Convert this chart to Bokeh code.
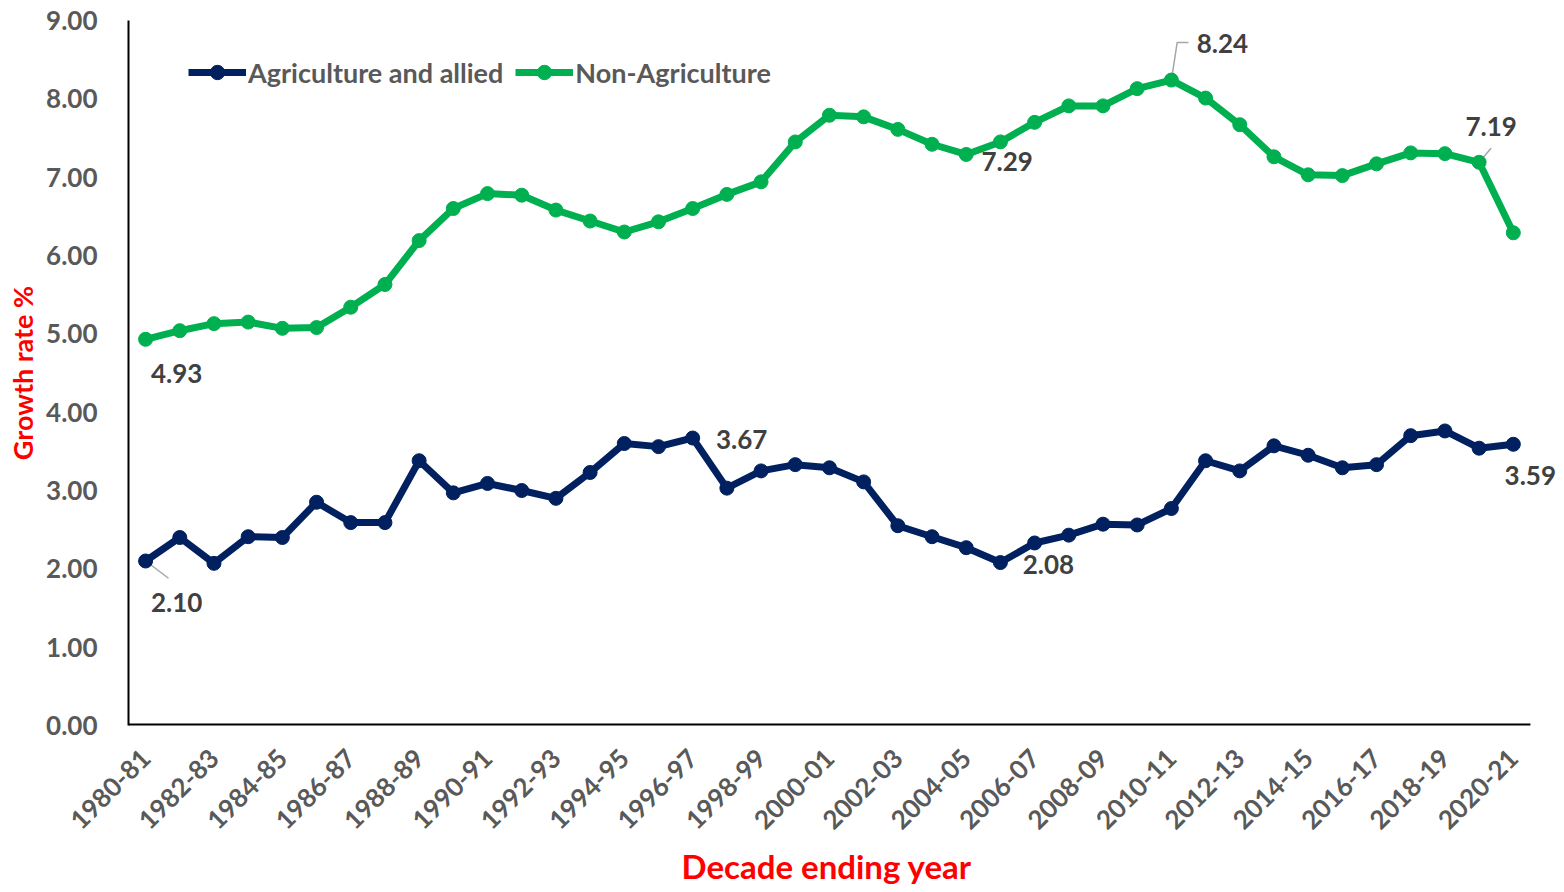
from bokeh.plotting import figure
from bokeh.models import (ColumnDataSource, Range1d, FixedTicker, PrintfTickFormatter,
                          Legend, LegendItem, LabelSet, Title)
from bokeh.core.properties import value
from bokeh.embed import file_html
from bokeh.resources import INLINE

years = ["1980-81", "1981-82", "1982-83", "1983-84", "1984-85", "1985-86", "1986-87",
         "1987-88", "1988-89", "1989-90", "1990-91", "1991-92", "1992-93", "1993-94",
         "1994-95", "1995-96", "1996-97", "1997-98", "1998-99", "1999-00", "2000-01",
         "2001-02", "2002-03", "2003-04", "2004-05", "2005-06", "2006-07", "2007-08",
         "2008-09", "2009-10", "2010-11", "2011-12", "2012-13", "2013-14", "2014-15",
         "2015-16", "2016-17", "2017-18", "2018-19", "2019-20", "2020-21"]

agri = [2.10, 2.40, 2.07, 2.41, 2.40, 2.85, 2.59, 2.59, 3.38, 2.97, 3.09, 3.00, 2.90,
        3.23, 3.60, 3.56, 3.67, 3.03, 3.25, 3.33, 3.29, 3.11, 2.55, 2.41, 2.27, 2.08,
        2.33, 2.43, 2.57, 2.56, 2.77, 3.38, 3.25, 3.57, 3.45, 3.29, 3.33, 3.70, 3.76,
        3.54, 3.59]

nonagri = [4.93, 5.04, 5.13, 5.15, 5.07, 5.08, 5.34, 5.63, 6.19, 6.60, 6.79, 6.77, 6.58,
           6.44, 6.30, 6.43, 6.60, 6.78, 6.94, 7.45, 7.79, 7.77, 7.61, 7.42, 7.29, 7.45,
           7.70, 7.91, 7.91, 8.13, 8.24, 8.01, 7.67, 7.26, 7.03, 7.02, 7.17, 7.31, 7.30,
           7.19, 6.29]

series_names = ["Agriculture and allied", "Non-Agriculture"]
y_ticks = [0, 1, 2, 3, 4, 5, 6, 7, 8, 9]
x_title = "Decade ending year"
y_title = "Growth rate %"

# data-labelled points
agri_label_idx = [0, 16, 25, 40]
nonagri_label_idx = [0, 24, 30, 39]

# styles
AGRI_COLOR = "#002060"
NON_COLOR = "#00B050"
FONT = "Lato"
# screen offsets (px, right / up) of each data label from its point
agri_label_offsets = [(31, -41), (49, -1), (48, -2), (17, -31)]
nonagri_label_offsets = [(31, -34), (41, -7), (51, 37), (12, 36)]
X_PAD = 0.5          # half-category padding on both sides of the axis
X_EXTRA = 0.88       # extra room right of the axis so outside labels are not clipped

xs = list(range(len(years)))
x_lo = -X_PAD
x_hi = len(years) - 1 + X_PAD

p = figure(width=1564, height=892, output_backend="svg", toolbar_location=None,
           x_range=Range1d(x_lo, x_hi + X_EXTRA), y_range=Range1d(0, 9),
           min_border_left=128, min_border_right=4, min_border_top=20,
           min_border_bottom=167)
p.outline_line_color = None
p.xgrid.grid_line_color = None
p.ygrid.grid_line_color = None
p.background_fill_color = "white"

# x axis base line (only across the category span)
p.segment(x0=[x_lo], y0=[0], x1=[x_hi], y1=[0], line_color="black", line_width=4)

src_a = ColumnDataSource(dict(x=xs, y=agri))
src_n = ColumnDataSource(dict(x=xs, y=nonagri))

# leader lines (data-relative)
lead_xs = [
    [0, 0 + 0.67],
    [30, 30 + 0.17, 30 + 0.50],
    [39, 39 + 0.35],
]
lead_ys = [
    [agri[0], agri[0] - 0.22],
    [nonagri[30], nonagri[30] + 0.48, nonagri[30] + 0.48],
    [nonagri[39], nonagri[39] + 0.18],
]
p.multi_line(xs=lead_xs, ys=lead_ys, line_color="#A6A6A6", line_width=1.5)

la = p.line('x', 'y', source=src_a, line_color=AGRI_COLOR, line_width=7)
sa = p.scatter('x', 'y', source=src_a, size=14, fill_color=AGRI_COLOR, line_color=AGRI_COLOR)
ln = p.line('x', 'y', source=src_n, line_color=NON_COLOR, line_width=7)
sn = p.scatter('x', 'y', source=src_n, size=14, fill_color=NON_COLOR, line_color=NON_COLOR)

lab_x = agri_label_idx + nonagri_label_idx
lab_y = [agri[i] for i in agri_label_idx] + [nonagri[i] for i in nonagri_label_idx]
offs = agri_label_offsets + nonagri_label_offsets
lab_src = ColumnDataSource(dict(
    x=lab_x, y=lab_y, text=["%.2f" % v for v in lab_y],
    dx=[o[0] for o in offs], dy=[o[1] for o in offs]))
labels = LabelSet(x='x', y='y', text='text', source=lab_src, x_offset='dx', y_offset='dy',
                  text_font=value(FONT), text_font_style="bold", text_font_size="26px",
                  text_color="#404040", text_align="center", text_baseline="middle")
p.add_layout(labels)

# axes
p.xaxis.ticker = FixedTicker(ticks=xs[::2])
p.xaxis.major_label_overrides = {i: years[i] for i in xs[::2]}
p.xaxis.major_label_orientation = 0.785398
p.yaxis.ticker = FixedTicker(ticks=y_ticks)
p.yaxis.formatter = PrintfTickFormatter(format="%.2f")

for ax in (p.xaxis[0], p.yaxis[0]):
    ax.axis_line_color = "black"
    ax.axis_line_width = 2
    ax.major_tick_line_color = None
    ax.minor_tick_line_color = None
    ax.major_label_text_font = FONT
    ax.major_label_text_font_style = "bold"
    ax.major_label_text_font_size = "26px"
    ax.major_label_text_color = "#595959"
    ax.axis_label_text_font = FONT
    ax.axis_label_text_font_style = "bold"
    ax.axis_label_text_color = "#FF0000"
p.xaxis.axis_line_color = None

p.yaxis.major_label_standoff = 25
p.xaxis.major_label_standoff = 22
p.yaxis.axis_label = y_title
p.yaxis.axis_label_text_font_size = "27px"
p.yaxis.axis_label_standoff = 4

# x-axis title, centred under the axis span (not the widened frame)
xt = Title(text=x_title, align="left", offset=553, standoff=6,
           text_font=FONT, text_font_style="bold", text_font_size="33px",
           text_color="#FF0000")
p.add_layout(xt, "below")

legend = Legend(items=[LegendItem(label=series_names[0], renderers=[la, sa]),
                       LegendItem(label=series_names[1], renderers=[ln, sn])],
                orientation="horizontal", location=(60, 635))
legend.border_line_color = None
legend.background_fill_alpha = 0
legend.padding = 0
legend.margin = 0
legend.spacing = 12
legend.glyph_width = 58
legend.glyph_height = 36
legend.label_standoff = 2
legend.label_height = 24
legend.label_text_font = FONT
legend.label_text_font_style = "bold"
legend.label_text_font_size = "27px"
legend.label_text_color = "#595959"
p.add_layout(legend)

open("out.html", "w").write(file_html(p, INLINE))
